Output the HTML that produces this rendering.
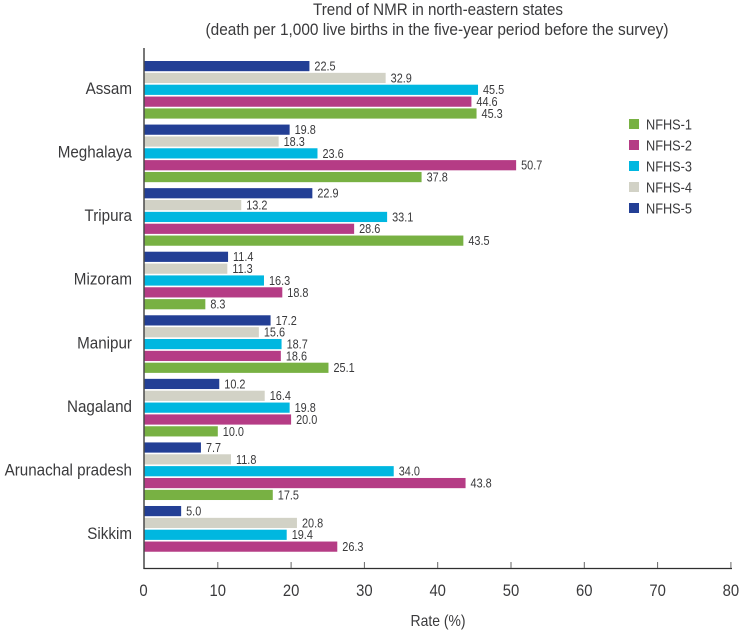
<!DOCTYPE html>
<html>
<head>
<meta charset="utf-8">
<style>
html,body{margin:0;padding:0;background:#fff;width:741px;height:632px;overflow:hidden}
svg{display:block}
text{font-family:"Liberation Sans",sans-serif;fill:#3a3a3c}
</style>
</head>
<body>
<svg id="chart" width="741" height="632" viewBox="0 0 741 632">
<text x="438" y="15" text-anchor="middle" font-size="17" textLength="250" lengthAdjust="spacingAndGlyphs">Trend of NMR in north-eastern states</text>
<text x="437" y="35" text-anchor="middle" font-size="17" textLength="463" lengthAdjust="spacingAndGlyphs">(death per 1,000 live births in the five-year period before the survey)</text>
<text x="438" y="626" text-anchor="middle" font-size="16" textLength="55" lengthAdjust="spacingAndGlyphs">Rate (%)</text>
</svg>
<script>
const states = ['Assam','Meghalaya','Tripura','Mizoram','Manipur','Nagaland','Arunachal pradesh','Sikkim'];
const seriesNames = ['NFHS-1','NFHS-2','NFHS-3','NFHS-4','NFHS-5'];
const nfhs1 = [45.3,37.8,43.5,8.3,25.1,10.0,17.5,null];
const nfhs2 = [44.6,50.7,28.6,18.8,18.6,20.0,43.8,26.3];
const nfhs3 = [45.5,23.6,33.1,16.3,18.7,19.8,34.0,19.4];
const nfhs4 = [32.9,18.3,13.2,11.3,15.6,16.4,11.8,20.8];
const nfhs5 = [22.5,19.8,22.9,11.4,17.2,10.2,7.7,5.0];
const xTicks = [0,10,20,30,40,50,60,70,80];

const svg = document.getElementById('chart');
const NS = 'http://www.w3.org/2000/svg';
const colors = ['#78b143','#b53c85','#00b7e0','#d2d2c6','#233f95'];
const stacked = [nfhs5,nfhs4,nfhs3,nfhs2,nfhs1];
const stackedColors = [colors[4],colors[3],colors[2],colors[1],colors[0]];
const stackedNames = ['nfhs-5','nfhs-4','nfhs-3','nfhs-2','nfhs-1'];

function xScale(v){ return 144.5 + v * 7.33; }
function groupTop(i){ return 61 + i * 63.57; }
function barTop(i,j){ return groupTop(i) + j * 11.85; }
function make(tag, attrs){
  const el = document.createElementNS(NS, tag);
  for (const k in attrs) el.setAttribute(k, attrs[k]);
  svg.appendChild(el);
  return el;
}
function condense(el, factor){
  el.setAttribute('lengthAdjust', 'spacingAndGlyphs');
  el.setAttribute('textLength', (el.getComputedTextLength() * factor).toFixed(1));
}

states.forEach(function(state,i){
  stacked.forEach(function(values,j){
    const v = values[i];
    if (v === null) return;
    const bar = make('rect',{x:xScale(0),y:barTop(i,j),width:xScale(v)-xScale(0),height:10.2,fill:stackedColors[j]});
    
    
    const label = make('text',{x:xScale(v)+5,y:barTop(i,j)+9.5,'font-size':12.5});
    label.textContent = v.toFixed(1);
    condense(label, 0.87);
    
    
  });
  const cat = make('text',{x:132,y:groupTop(i)+33,'text-anchor':'end','font-size':16.5});
  cat.textContent = state;
  condense(cat, 0.92);
  
  
});

const yAxis = make('line',{x1:144,x2:144,y1:48,y2:569,stroke:'#4a4a4a','stroke-width':1.5});


const xAxis = make('line',{x1:143.5,x2:732,y1:568.5,y2:568.5,stroke:'#2f2f2f','stroke-width':1.2});



xTicks.forEach(function(t){
  if (t > 0) {
    const tick = make('line',{x1:xScale(t),x2:xScale(t),y1:562,y2:568,stroke:'#666','stroke-width':1});
    
    
  }
  const lab = make('text',{x:xScale(t)-(t===0?1:0),y:596,'text-anchor':'middle','font-size':16.5});
  lab.textContent = t;
  condense(lab, 0.9);
  
  
});

seriesNames.forEach(function(name,k){
  const y = 119 + k * 21;
  const sw = make('rect',{x:629,y:y,width:10,height:10,fill:colors[k]});
  
  
  const t = make('text',{x:646,y:y+10.5,'font-size':14.5,textLength:46,lengthAdjust:'spacingAndGlyphs'});
  t.textContent = name;
  
  
});
</script>
</body>
</html>
